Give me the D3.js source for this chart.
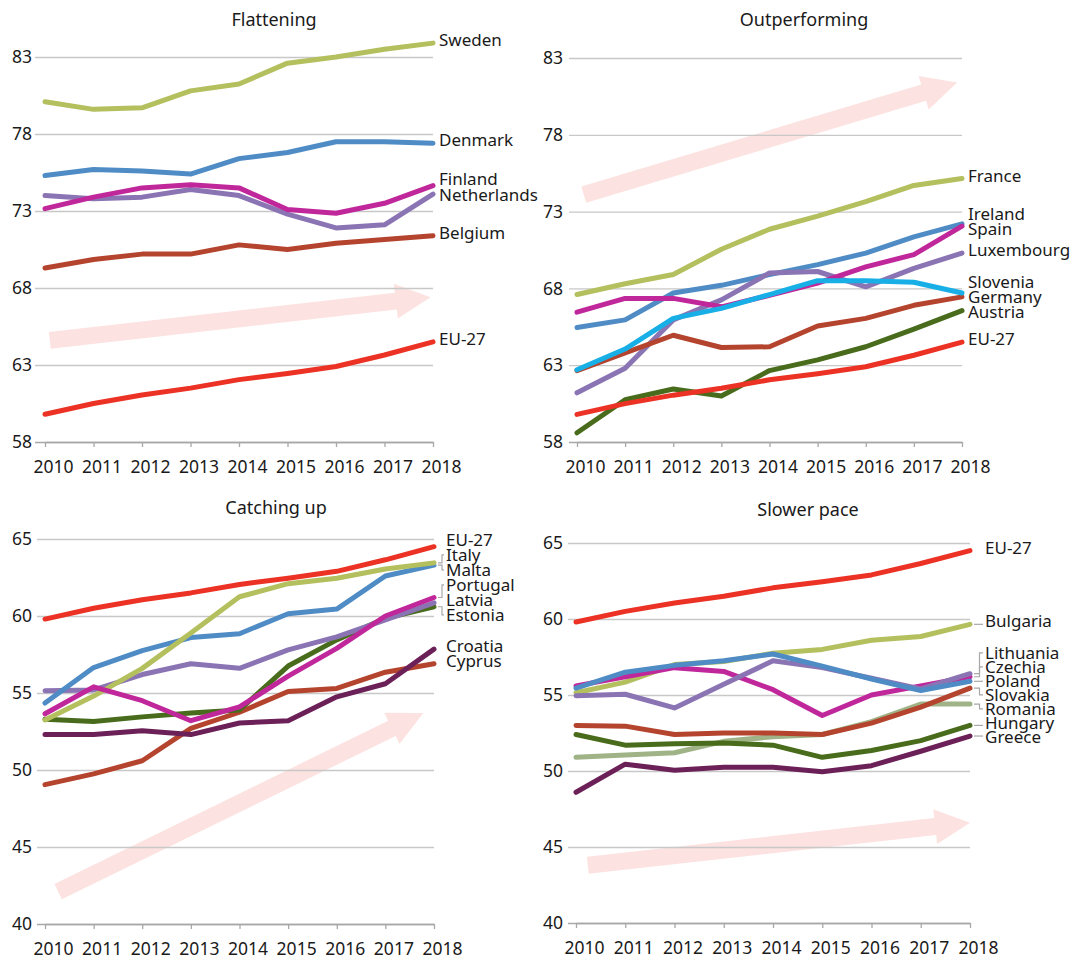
<!DOCTYPE html>
<html><head><meta charset="utf-8">
<script src="https://cdn.jsdelivr.net/npm/d3@7"></script>
<style>
body{margin:0;background:#fff}
svg{display:block}
text{font-family:"Noto Sans","DejaVu Sans",sans-serif;fill:#1a1a1a}
</style>
</head><body>
<svg id="chart" width="1072" height="960"></svg>
<script>
// ---------- data ----------
const years = [2010, 2011, 2012, 2013, 2014, 2015, 2016, 2017, 2018];
const eu27 = [59.8, 60.5, 61.05, 61.5, 62.05, 62.45, 62.9, 63.65, 64.5];

// Flattening
const sweden      = [80.1, 79.6, 79.7, 80.8, 81.25, 82.6, 83.0, 83.5, 83.9];
const denmark     = [75.3, 75.7, 75.6, 75.4, 76.4, 76.8, 77.5, 77.5, 77.4];
const finland     = [73.15, 73.9, 74.5, 74.7, 74.5, 73.1, 72.85, 73.5, 74.65];
const netherlands = [74.0, 73.8, 73.9, 74.4, 74.0, 72.8, 71.9, 72.1, 74.1];
const belgium     = [69.3, 69.85, 70.2, 70.2, 70.8, 70.5, 70.9, 71.15, 71.4];

// Outperforming
const france     = [67.6, 68.3, 68.9, 70.55, 71.85, 72.7, 73.65, 74.7, 75.15];
const ireland    = [65.45, 65.95, 67.7, 68.2, 68.9, 69.55, 70.3, 71.35, 72.2];
const spain      = [66.45, 67.35, 67.35, 66.8, 67.55, 68.35, 69.4, 70.2, 72.05];
const luxembourg = [61.2, 62.8, 65.95, 67.25, 69.0, 69.1, 68.1, 69.3, 70.3];
const slovenia   = [62.7, 64.05, 66.05, 66.7, 67.6, 68.5, 68.5, 68.4, 67.7];
const germany    = [62.65, 63.8, 64.95, 64.15, 64.2, 65.55, 66.05, 66.9, 67.45];
const austria    = [58.6, 60.75, 61.45, 61.0, 62.65, 63.35, 64.2, 65.35, 66.55];

// Catching up
const italy    = [53.25, 54.8, 56.6, 58.9, 61.25, 62.1, 62.45, 63.05, 63.45];
const malta    = [54.35, 56.65, 57.75, 58.6, 58.85, 60.15, 60.45, 62.6, 63.3];
const portugal = [53.65, 55.4, 54.5, 53.2, 54.1, 56.1, 57.9, 60.0, 61.2];
const latvia   = [55.15, 55.2, 56.2, 56.9, 56.6, 57.8, 58.65, 59.75, 60.85];
const estonia  = [53.3, 53.15, 53.45, 53.7, 53.9, 56.75, 58.45, 59.85, 60.6];
const croatia  = [52.3, 52.3, 52.55, 52.3, 53.05, 53.2, 54.75, 55.6, 57.85];
const cyprus   = [49.05, 49.75, 50.6, 52.7, 53.75, 55.1, 55.3, 56.35, 56.9];

// Slower pace
const bulgaria  = [55.15, 55.85, 57.0, 57.2, 57.75, 58.0, 58.6, 58.85, 59.65];
const lithuania = [54.95, 55.05, 54.15, 55.7, 57.25, 56.8, 56.1, 55.4, 56.4];
const czechia   = [55.6, 56.2, 56.8, 56.55, 55.35, 53.65, 55.0, 55.6, 56.2];
const poland    = [55.45, 56.5, 56.95, 57.25, 57.7, 56.9, 56.05, 55.3, 55.9];
const slovakia  = [53.0, 52.95, 52.4, 52.5, 52.5, 52.4, 53.15, 54.2, 55.45];
const romania   = [50.9, 51.05, 51.2, 51.95, 52.25, 52.4, 53.25, 54.4, 54.4];
const hungary   = [52.4, 51.7, 51.8, 51.85, 51.7, 50.9, 51.35, 52.0, 53.0];
const greece    = [48.6, 50.45, 50.05, 50.25, 50.25, 49.95, 50.35, 51.3, 52.3];

const ticksTop    = [58, 63, 68, 73, 78, 83];
const ticksBottom = [40, 45, 50, 55, 60, 65];
const panelTitles = ["Flattening", "Outperforming", "Catching up", "Slower pace"];

// trend arrows (year, value) -> (year, value)
const arrowFlattening    = [2010.1, 64.6, 2017.95, 67.4];
const arrowOutperforming = [2010.14, 74.1, 2017.9, 81.4];
const arrowCatching      = [2010.27, 42.1, 2017.78, 53.7];
const arrowSlower        = [2010.24, 43.8, 2018.0, 46.6];

// ---------- styles ----------
const C = {
  red: "#ec3224", olive: "#b4bf5e", blue: "#4f8cc5", magenta: "#c0279b",
  purple: "#8a74b3", brown: "#b5442e", cyan: "#17afe6", green: "#486c1b",
  plum: "#6c2058", sage: "#9fb387"
};

const panels = [
  { title: panelTitles[0], ticks: ticksTop, domain: [58, 83], arrow: arrowFlattening,
    x0: 45, x1: 433, yTop: 57, yBot: 442, gridLeft: 35, yLabelX: 32, titleX: 274, titleY: 26,
    labelX: 439, gap: 15.5, leaders: false,
    series: [
      { name: "Sweden", values: sweden, color: C.olive },
      { name: "Denmark", values: denmark, color: C.blue },
      { name: "Netherlands", values: netherlands, color: C.purple },
      { name: "Finland", values: finland, color: C.magenta },
      { name: "Belgium", values: belgium, color: C.brown },
      { name: "EU-27", values: eu27, color: C.red }
    ] },
  { title: panelTitles[1], ticks: ticksTop, domain: [58, 83], arrow: arrowOutperforming,
    x0: 577, x1: 962, yTop: 58, yBot: 442, gridLeft: 569, yLabelX: 563, titleX: 804, titleY: 26,
    labelX: 968, gap: 15, leaders: false,
    series: [
      { name: "France", values: france, color: C.olive },
      { name: "Ireland", values: ireland, color: C.blue },
      { name: "Luxembourg", values: luxembourg, color: C.purple },
      { name: "Spain", values: spain, color: C.magenta },
      { name: "Germany", values: germany, color: C.brown },
      { name: "Austria", values: austria, color: C.green },
      { name: "Slovenia", values: slovenia, color: C.cyan },
      { name: "EU-27", values: eu27, color: C.red }
    ] },
  { title: panelTitles[2], ticks: ticksBottom, domain: [40, 65], arrow: arrowCatching,
    x0: 45, x1: 434, yTop: 539, yBot: 924, gridLeft: 37, yLabelX: 32, titleX: 276, titleY: 514,
    labelX: 446, gap: 15, leaders: true,
    series: [
      { name: "Cyprus", values: cyprus, color: C.brown },
      { name: "Croatia", values: croatia, color: C.plum },
      { name: "Estonia", values: estonia, color: C.green },
      { name: "Latvia", values: latvia, color: C.purple },
      { name: "Malta", values: malta, color: C.blue },
      { name: "Italy", values: italy, color: C.olive },
      { name: "Portugal", values: portugal, color: C.magenta },
      { name: "EU-27", values: eu27, color: C.red }
    ] },
  { title: panelTitles[3], ticks: ticksBottom, domain: [40, 65], arrow: arrowSlower,
    x0: 576, x1: 970, yTop: 543, yBot: 923, gridLeft: 568, yLabelX: 563, titleX: 808, titleY: 516,
    labelX: 985, gap: 14, leaders: true,
    series: [
      { name: "Bulgaria", values: bulgaria, color: C.olive },
      { name: "Czechia", values: czechia, color: C.magenta },
      { name: "Lithuania", values: lithuania, color: C.purple },
      { name: "Poland", values: poland, color: C.blue },
      { name: "Romania", values: romania, color: C.sage },
      { name: "Slovakia", values: slovakia, color: C.brown },
      { name: "Hungary", values: hungary, color: C.green },
      { name: "Greece", values: greece, color: C.plum },
      { name: "EU-27", values: eu27, color: C.red }
    ] }
];

const svg = d3.select("#chart");

function resolveLabels(items, gap) {
  const sorted = items.slice().sort((a, b) => a.want - b.want);
  const clusters = [];
  const top = c => c.sum / c.m.length - gap * (c.m.length - 1) / 2;
  for (const it of sorted) {
    clusters.push({ m: [it], sum: it.want });
    while (clusters.length > 1) {
      const c = clusters[clusters.length - 1], p = clusters[clusters.length - 2];
      const pBottom = top(p) + gap * (p.m.length - 1);
      if (top(c) - pBottom < gap) {
        p.m.push(...c.m); p.sum += c.sum; clusters.pop();
      } else break;
    }
  }
  clusters.forEach(c => { const t = top(c); c.m.forEach((it, i) => it.y = t + i * gap); });
  return sorted;
}

panels.forEach(P => {
  const g = svg.append("g");
  const x = d3.scaleLinear().domain([2010, 2018]).range([P.x0, P.x1]);
  const y = d3.scaleLinear().domain(P.domain).range([P.yBot, P.yTop]);

  // title
  g.append("text").attr("x", P.titleX).attr("y", P.titleY)
    .attr("text-anchor", "middle").style("font-size", "18px").text(P.title);

  // arrow
  const [ay0, av0, ay1, av1] = P.arrow;
  const p0 = [x(ay0), y(av0)], p1 = [x(ay1), y(av1)];
  const dx = p1[0] - p0[0], dy = p1[1] - p0[1], L = Math.hypot(dx, dy);
  const u = [dx / L, dy / L], n = [-u[1], u[0]];
  const sw = 8.5, hw = 17.5, hl = 35;
  const b = [p1[0] - u[0] * hl, p1[1] - u[1] * hl];
  const pt = (p, k) => [p[0] + n[0] * k, p[1] + n[1] * k];
  const poly = [pt(p0, sw), pt(b, sw), pt(b, hw), p1, pt(b, -hw), pt(b, -sw), pt(p0, -sw)];
  g.append("path").attr("d", "M" + poly.map(p => p.join(",")).join("L") + "Z")
    .attr("fill", "#fce3e1");

  // y axis + gridlines
  const yAxis = d3.axisLeft(y).tickValues(P.ticks).tickFormat(d3.format("d"))
    .tickSize(-(P.x1 - P.gridLeft)).tickPadding(P.gridLeft - P.yLabelX);
  const ya = g.append("g").attr("transform", `translate(${P.gridLeft},0)`).call(yAxis);
  ya.select(".domain").remove();
  ya.selectAll("line").attr("stroke", "#c8c8c8").attr("stroke-width", 1.3);
  ya.selectAll("text").style("font-size", "17.5px").attr("fill", "#1a1a1a");
  ya.selectAll(".tick").filter(d => d === P.domain[0]).select("line")
    .attr("stroke", "#a8a8a8").attr("stroke-width", 1.5);

  // x axis
  const xAxis = d3.axisBottom(x).tickValues(years).tickFormat(d3.format("d"))
    .tickSize(5).tickSizeOuter(0);
  const xa = g.append("g").attr("transform", `translate(0,${P.yBot})`).call(xAxis);
  xa.select(".domain").attr("stroke", "#a8a8a8").attr("stroke-width", 1.5);
  xa.selectAll("line").attr("stroke", "#a8a8a8").attr("stroke-width", 1.3);
  xa.selectAll("text").style("font-size", "17.5px").attr("fill", "#1a1a1a")
    .attr("y", 31).attr("dy", 0).attr("dx", 8);

  // lines
  const line = d3.line().x((d, i) => x(years[i])).y(d => y(d));
  g.selectAll("path.series").data(P.series).join("path").attr("class", "series")
    .attr("d", d => line(d.values)).attr("fill", "none")
    .attr("stroke", d => d.color).attr("stroke-width", 5)
    .attr("stroke-linecap", "round").attr("stroke-linejoin", "round");

  // labels
  const items = P.series.map(s => ({ name: s.name, end: y(s.values[s.values.length - 1]) }))
    .map(it => ({ ...it, want: it.end - 3 }));
  resolveLabels(items, P.gap);
  if (P.leaders) {
    items.filter(it => it.name !== "EU-27").forEach(it => {
      if (Math.abs(it.y - it.end) > 4) {
        const xa1 = P.x1 + 4, xb = P.x1 + 8 + (P.labelX - P.x1 - 12) / 2;
        g.append("path")
          .attr("d", `M${xa1},${it.end}H${xb}V${it.y}H${P.labelX - 2}`)
          .attr("fill", "none").attr("stroke", "#a8a8a8").attr("stroke-width", 1.2);
      } else if (P.labelX - P.x1 > 12) {
        g.append("path")
          .attr("d", `M${P.x1 + 4},${it.end}H${P.labelX - 2}`)
          .attr("fill", "none").attr("stroke", "#a8a8a8").attr("stroke-width", 1.2);
      }
    });
  }
  g.selectAll("text.lbl").data(items).join("text").attr("class", "lbl")
    .attr("x", P.labelX).attr("y", d => d.y).attr("dy", "0.35em")
    .style("font-size", "17px").text(d => d.name);
});
</script>
</body></html>
